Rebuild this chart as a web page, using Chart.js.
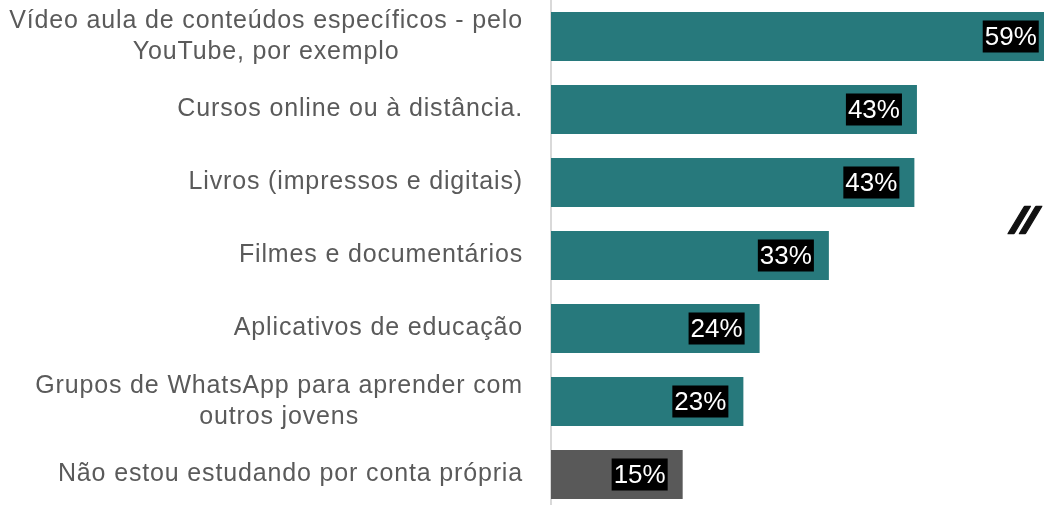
<!DOCTYPE html>
<html>
<head>
<meta charset="utf-8">
<script src="https://cdn.jsdelivr.net/npm/chart.js@4"></script>
<style>
  html, body { margin: 0; padding: 0; background: #ffffff; overflow: hidden; }
  #chart { display: block; }
</style>
</head>
<body>
<canvas id="chart" width="1044" height="511"></canvas>
<script>
const categories = [
    ['Vídeo aula de conteúdos específicos - pelo', 'YouTube, por exemplo'],
    ['Cursos online ou à distância.'],
    ['Livros (impressos e digitais)'],
    ['Filmes e documentários'],
    ['Aplicativos de educação'],
    ['Grupos de WhatsApp para aprender com', 'outros jovens'],
    ['Não estou estudando por conta própria']
];
const values = [58.8, 42.8, 42.5, 32.5, 24.4, 22.5, 15.4];
const valueLabels = ['59%', '43%', '43%', '33%', '24%', '23%', '15%'];
const barColors = ['#27797c', '#27797c', '#27797c', '#27797c', '#27797c', '#27797c', '#595959'];

// category names: right-aligned block, lines centred inside it
const categoryLabels = {
    id: 'categoryLabels',
    afterDraw(chart) {
        const ctx = chart.ctx;
        const yScale = chart.scales.y;
        const right = chart.chartArea.left - 28;
        const lineHeight = 31;
        ctx.save();
        ctx.font = '25px "Liberation Sans", Arial, sans-serif';
        ctx.letterSpacing = '0.85px';
        ctx.fillStyle = '#5a5a5a';
        ctx.textAlign = 'center';
        ctx.textBaseline = 'middle';
        categories.forEach((lines, i) => {
            const y = yScale.getPixelForTick(i);
            const blockWidth = Math.max(...lines.map(l => ctx.measureText(l).width));
            const cx = right - blockWidth / 2;
            lines.forEach((line, j) => {
                const ly = y + (j - (lines.length - 1) / 2) * lineHeight;
                ctx.fillText(line, cx, ly);
            });
        });
        ctx.restore();
    }
};

// percentage labels on black boxes near the bar ends
const valueBoxes = {
    id: 'valueBoxes',
    afterDatasetsDraw(chart) {
        const ctx = chart.ctx;
        const meta = chart.getDatasetMeta(0);
        ctx.save();
        ctx.font = '26px "Liberation Sans", Arial, sans-serif';
        ctx.letterSpacing = '0px';
        ctx.textAlign = 'center';
        ctx.textBaseline = 'middle';
        meta.data.forEach((bar, i) => {
            const text = valueLabels[i];
            const w = ctx.measureText(text).width + 4;
            const h = 32;
            const right = bar.x - 15;
            ctx.fillStyle = '#000000';
            ctx.fillRect(right - w, bar.y - h / 2, w, h);
            ctx.fillStyle = '#ffffff';
            ctx.fillText(text, right - w / 2, bar.y + 1);
        });
        ctx.restore();
    }
};

// cropped quotation mark at the right edge of the original slide
const quoteMark = {
    id: 'quoteMark',
    afterDraw(chart) {
        const ctx = chart.ctx;
        ctx.save();
        ctx.font = 'bold 96px "DejaVu Sans", sans-serif';
        ctx.fillStyle = '#111111';
        ctx.strokeStyle = '#111111';
        ctx.lineWidth = 2.5;
        ctx.lineJoin = 'round';
        ctx.textBaseline = 'alphabetic';
        ctx.translate(977, 277);
        ctx.transform(0.55, 0, -0.6, 1, 0, 0);
        ctx.fillText('"', 0, 0);
        ctx.strokeText('"', 0, 0);
        ctx.restore();
    }
};

const ctx = document.getElementById('chart').getContext('2d');

new Chart(ctx, {
    type: 'bar',
    data: {
        labels: categories,
        datasets: [{
            data: values,
            backgroundColor: barColors,
            borderWidth: 0,
            barPercentage: 0.668,
            categoryPercentage: 1
        }]
    },
    options: {
        indexAxis: 'y',
        responsive: false,
        animation: false,
        layout: {
            padding: 0
        },
        plugins: {
            legend: { display: false },
            tooltip: { enabled: false }
        },
        scales: {
            x: {
                display: false,
                min: 0,
                max: 57.66
            },
            y: {
                afterFit(scale) {
                    scale.width = 551;
                },
                ticks: { display: false },
                grid: { display: false, drawTicks: false },
                border: { display: true, color: '#d9d9d9', width: 2 }
            }
        }
    },
    plugins: [categoryLabels, valueBoxes, quoteMark]
});
</script>
</body>
</html>
